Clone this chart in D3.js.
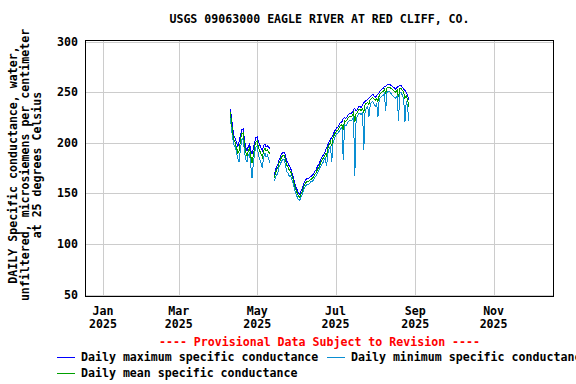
<!DOCTYPE html>
<html>
<head>
<meta charset="utf-8">
<script src="https://cdn.jsdelivr.net/npm/d3@7"></script>
<style>
  html, body { margin: 0; padding: 0; background: #fff; }
  svg { display: block; }
  text { font-family: "DejaVu Sans Mono", "Liberation Mono", monospace; font-weight: bold; font-size: 11.6px; }
</style>
</head>
<body>
<svg id="chart" width="576" height="384"></svg>
<script>
// ---- data (daily values starting 2025-04-10; null = missing) ----
const startDate = new Date(2025, 3, 10);
const maxVals = [233,226,214,207,204,200,196,202,208,213,214,205,196,192,196,199,193,189,194,201,205,206,201,198,195,192,197,199,196,197,196,194,
  null,null,
  168,172,176,178,183,186,189,191,191,188,182,180,177,175,171,167,162,157,154,151,149,152,155,159,162,164,165,165,166,167,
  168,170,172,174,177,179,182,185,187,189,192,195,198,201,204,205,208,211,213,215,216,219,220,221,224,225,224,226,228,229,
  229,230,233,234,232,233,236,236,235,237,240,241,242,243,244,246,247,248,246,245,247,248,250,252,253,254,256,256,257,258,
  258,257,256,255,254,253,255,256,257,257,255,253,252,250,247,242];
const minVals = [226,214,204,198,196,190,184,181,195,203,205,193,184,181,188,190,178,165,180,190,196,197,188,184,180,175,186,190,186,188,184,180,
  null,null,
  162,165,168,170,176,179,182,184,184,178,172,170,167,168,164,160,155,150,147,144,
  143,146,149,153,156,158,159,159,160,162,162,164,166,168,170,173,176,178,180,183,
  185,177,190,194,197,181,200,204,207,209,210,212,214,215,183,218,217,219,221,222,
  222,223,226,167,224,226,229,229,228,230,193,232,234,236,226,238,240,241,238,236,
  239,226,243,245,246,247,249,232,250,251,251,249,247,246,245,244,247,222,249,250,
  247,244,221,241,236,222];
const meanVals = [230,221,209,203,200,195,190,192,203,209,210,200,191,187,192,195,187,180,188,196,201,202,195,192,189,186,192,195,192,193,191,189,
  null,null,
  165,169,173,175,180,183,186,188,188,184,178,176,173,172,168,164,159,154,151,148,
  146,149,152,156,159,161,162,162,163,164,165,167,169,171,174,176,179,182,184,186,
  189,187,195,198,201,197,205,208,210,212,213,216,217,218,213,222,221,223,225,226,
  226,227,230,221,229,230,233,233,232,234,230,238,239,240,238,243,244,245,243,242,
  244,241,247,249,250,251,253,249,254,255,255,254,253,252,251,250,252,245,254,254,
  252,250,244,247,243,236];
const yTicks = [50,100,150,200,250,300];
const xTickDates = [new Date(2025,0,1), new Date(2025,2,1), new Date(2025,4,1), new Date(2025,6,1), new Date(2025,8,1), new Date(2025,10,1)];
const xTickMonths = ["Jan","Mar","May","Jul","Sep","Nov"];
const xTickYears = ["2025","2025","2025","2025","2025","2025"];
const titleText = "USGS 09063000 EAGLE RIVER AT RED CLIFF, CO.";
const yTitleLines = ["DAILY Specific conductance, water,", "unfiltered, microsiemens per centimeter", "at 25 degrees Celsius"];
const provisionalText = "---- Provisional Data Subject to Revision ----";
const seriesNames = ["Daily maximum specific conductance", "Daily minimum specific conductance", "Daily mean specific conductance"];
const seriesColors = ["#0000ff", "#0a8ed2", "#00a000"];

// ---- layout ----
const L = 85, R = 554, T = 40, B = 297;
const svg = d3.select("#chart");
const x = d3.scaleTime().domain([new Date(2024,11,18), new Date(2025,11,18)]).range([L, R]);
const y = d3.scaleLinear().domain([47.7, 301.7]).range([B, T]);

const days = maxVals.map((_, i) => d3.timeDay.offset(startDate, i));

// grid
const g = svg.append("g");
g.selectAll("line.hg").data(yTicks).enter().append("line")
  .attr("x1", L).attr("x2", R)
  .attr("y1", d => Math.round(y(d)) + 0.5).attr("y2", d => Math.round(y(d)) + 0.5)
  .attr("stroke", "#cccccc").attr("stroke-width", 1).attr("shape-rendering", "crispEdges");
g.selectAll("line.vg").data(xTickDates).enter().append("line")
  .attr("y1", T).attr("y2", B)
  .attr("x1", d => Math.round(x(d)) + 0.5).attr("x2", d => Math.round(x(d)) + 0.5)
  .attr("stroke", "#cccccc").attr("stroke-width", 1).attr("shape-rendering", "crispEdges");

// series
function drawSeries(vals, color) {
  const line = d3.line()
    .defined(d => d.v !== null)
    .x(d => x(d.t)).y(d => y(d.v));
  svg.append("path")
    .datum(vals.map((v, i) => ({t: days[i], v: v})))
    .attr("d", line)
    .attr("fill", "none").attr("stroke", color).attr("stroke-width", 1)
    .attr("shape-rendering", "crispEdges");
}
drawSeries(maxVals, seriesColors[0]);
drawSeries(minVals, seriesColors[1]);
drawSeries(meanVals, seriesColors[2]);

// frame
svg.append("rect").attr("x", L + 0.5).attr("y", T + 0.5).attr("width", R - L - 1).attr("height", B - T - 1)
  .attr("fill", "none").attr("stroke", "#000").attr("stroke-width", 1).attr("shape-rendering", "crispEdges");

// y tick labels
svg.selectAll("text.yl").data(yTicks).enter().append("text")
  .attr("x", 78).attr("y", d => y(d) + 4)
  .attr("text-anchor", "end").text(d => d);

// x tick labels
svg.selectAll("text.xm").data(xTickDates).enter().append("text")
  .attr("x", d => x(d)).attr("y", 315).attr("text-anchor", "middle")
  .text((d, i) => xTickMonths[i]);
svg.selectAll("text.xy").data(xTickDates).enter().append("text")
  .attr("x", d => x(d)).attr("y", 328).attr("text-anchor", "middle")
  .text((d, i) => xTickYears[i]);

// title
svg.append("text").attr("x", (L + R) / 2).attr("y", 23).attr("text-anchor", "middle").text(titleText);

// y title
const yt = svg.append("text").attr("transform", "translate(0,165) rotate(-90)").attr("text-anchor", "middle");
yTitleLines.forEach((s, i) => {
  yt.append("tspan").attr("x", 0).attr("y", 17 + i * 12).text(s);
});

// provisional
svg.append("text").attr("x", (L + R) / 2).attr("y", 346).attr("text-anchor", "middle")
  .attr("fill", "#ff0000").text(provisionalText);

// legend
const legendPos = [{lx: 57, ly: 357}, {lx: 327, ly: 357}, {lx: 57, ly: 373}];
legendPos.forEach((p, i) => {
  svg.append("rect").attr("x", p.lx).attr("y", p.ly).attr("width", 18).attr("height", 1)
    .attr("fill", seriesColors[i]).attr("shape-rendering", "crispEdges");
  svg.append("text").attr("x", p.lx + 24).attr("y", p.ly + 4).text(seriesNames[i]);
});
</script>
</body>
</html>
